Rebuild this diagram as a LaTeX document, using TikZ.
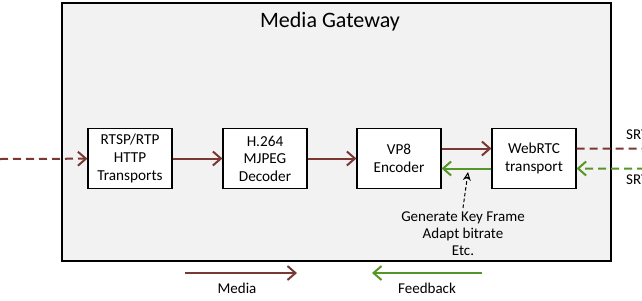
\documentclass[tikz,border=0pt]{standalone}
\usepackage{fontspec}
\setmainfont{Carlito}
\usetikzlibrary{arrows.meta}

\definecolor{mediared}{RGB}{122,56,50}
\definecolor{fbgreen}{RGB}{86,150,40}
\definecolor{gwgray}{RGB}{242,242,242}

\tikzset{
  block/.style={draw=black, line width=0.35mm, fill=white, minimum width=25.2mm,
    minimum height=18mm, align=center, font=\fontsize{13}{15}\selectfont},
  media/.style={draw=mediared, line width=0.6mm, -{Straight Barb[length=2.4mm,width=4.2mm,line width=0.6mm]}},
  feedback/.style={draw=fbgreen, line width=0.6mm, -{Straight Barb[length=2.4mm,width=4.2mm,line width=0.6mm]}},
  lbl/.style={font=\fontsize{12.8}{14.5}\selectfont, align=center}
}

\begin{document}
\begin{tikzpicture}[x=0.3mm, y=-0.3mm]
			%%%%% START %%%%%
			\useasboundingbox (0, 0) rectangle (642, 300);
			
			% gateway frame
			\draw[fill=gwgray, line width=0.4mm] (62, 3) rectangle (611, 261);
			\node[font=\fontsize{18.8}{20}\selectfont] (title) at (330, 22) {Media Gateway};
			
			% processing chain
			\node[block] (rtsp) at (130, 158.5) {RTSP/RTP\\HTTP\\Transports};
			\node[block] (dec) at (265, 158.5) {H.264\\MJPEG\\Decoder};
			\node[block] (enc) at (399, 158.5) {VP8\\Encoder};
			\node[block] (webrtc) at (534, 158.5) {WebRTC\\transport};
			
			\coordinate (srcin) at (0, 159);
			\coordinate (srtpout) at (645, 148.5);
			\coordinate (srtpin) at (645, 168.5);
			
			\draw[media, dash pattern=on 2.4mm off 1.5mm] (srcin) -- (rtsp);
			\draw[media] (rtsp) -- (dec);
			\draw[media] (dec) -- (enc);
			\draw[media] ([yshift=3mm]enc.east) -- ([yshift=3mm]webrtc.west);
			\draw[feedback] ([yshift=-3mm]webrtc.west) -- ([yshift=-3mm]enc.east);
			
			\draw[mediared, line width=0.6mm, dash pattern=on 2.4mm off 1.5mm] ([yshift=3mm]webrtc.east) -- (srtpout);
			\draw[feedback, dash pattern=on 2.4mm off 1.5mm] (srtpin) -- ([yshift=-3mm]webrtc.east);
			
			\node[lbl, anchor=west, inner sep=0pt] (srtptx) at (626, 135) {SRTP};
			\node[lbl, anchor=west, inner sep=0pt] (srtprx) at (626, 180) {SRTP};
			
			% feedback actions on the encoder
			\node[lbl] (actions) at (463, 234) {Generate Key Frame\\Adapt bitrate\\Etc.};
			\coordinate (fbhit) at (468, 172);
			\draw[densely dashed, line width=0.3mm, -{Stealth[length=2.6mm,width=2.4mm,open]}] (actions.north) -- (fbhit);
			
			% legend
			\coordinate (mleg1) at (185, 273);
			\coordinate (mleg2) at (297, 273);
			\coordinate (fleg1) at (482, 273);
			\coordinate (fleg2) at (372, 273);
			\draw[media] (mleg1) -- (mleg2);
			\draw[feedback] (fleg1) -- (fleg2);
			\node[lbl] (mtext) at (237, 288) {Media};
			\node[lbl] (ftext) at (427, 288) {Feedback};
			
			%%%%% END %%%%%
\end{tikzpicture}
\end{document}
